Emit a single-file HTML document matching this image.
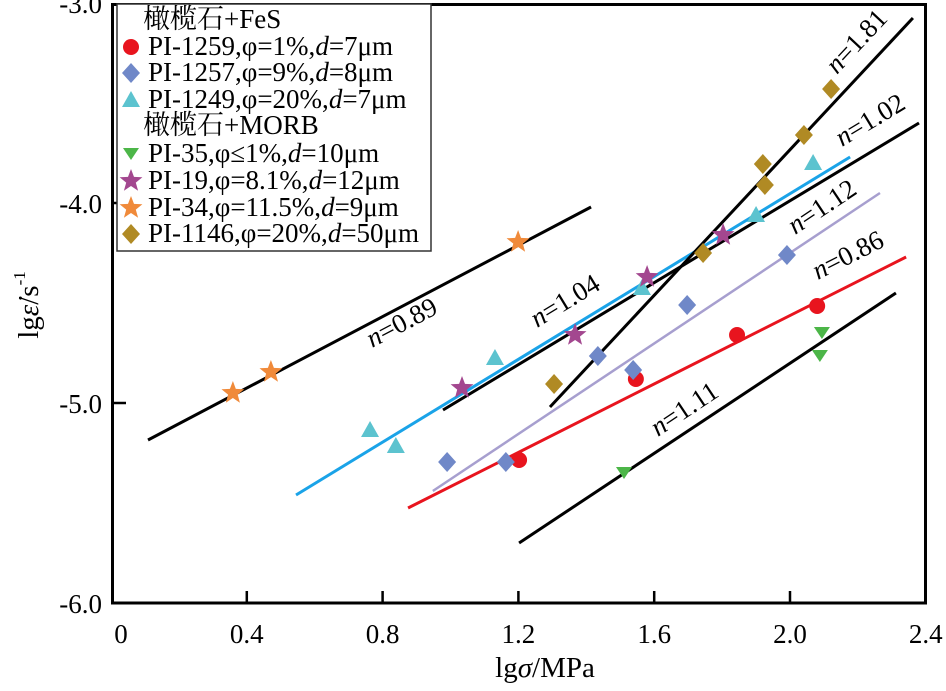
<!DOCTYPE html>
<html><head><meta charset="utf-8">
<style>
html,body{margin:0;padding:0;background:#fff;}
svg{display:block;}
text{font-family:"Liberation Serif","Noto Serif CJK SC","Noto Sans CJK SC",serif;fill:#000;}
</style></head>
<body>
<svg id="chart" width="946" height="691" viewBox="0 0 946 691" xmlns="http://www.w3.org/2000/svg">
  <g id="axes"></g>
  <g id="lines"></g>
  <g id="points"></g>
  <g id="legend"></g>
</svg>
<script>
// ---- data ----
const xTicks = [0, 0.4, 0.8, 1.2, 1.6, 2.0, 2.4];
const xTickLabels = ["0", "0.4", "0.8", "1.2", "1.6", "2.0", "2.4"];
const yTicks = [-3, -4, -5, -6];
const yTickLabels = ["-3.0", "-4.0", "-5.0", "-6.0"];

const fesRedX = [1.202, 1.546, 1.844, 2.08];
const fesRedY = [-5.285, -4.88, -4.66, -4.515];
const fesBlueX = [0.99, 1.163, 1.434, 1.538, 1.697, 1.991];
const fesBlueY = [-5.295, -5.295, -4.765, -4.835, -4.51, -4.26];
const fesCyanX = [0.763, 0.839, 1.131, 1.564, 1.9, 2.068];
const fesCyanY = [-5.135, -5.215, -4.775, -4.425, -4.06, -3.8];
const morbGreenX = [1.511, 2.088, 2.094];
const morbGreenY = [-5.35, -4.765, -4.65];
const morbPurpleX = [1.034, 1.367, 1.579, 1.803];
const morbPurpleY = [-4.925, -4.66, -4.37, -4.16];
const morbOrangeX = [0.359, 0.471, 1.199];
const morbOrangeY = [-4.95, -4.845, -4.195];
const morbGoldX = [1.305, 1.744, 1.926, 1.92, 2.041, 2.121];
const morbGoldY = [-4.905, -4.25, -3.91, -3.805, -3.66, -3.43];

const fitNames = ["n=0.89", "n=1.04", "n=1.02", "n=1.81", "n=1.12", "n=0.86", "n=1.11"];
const fitX0 = [0.109, 0.545, 0.978, 1.293, 0.948, 0.875, 1.202];
const fitY0 = [-5.185, -5.46, -5.035, -5.02, -5.44, -5.525, -5.7];
const fitX1 = [1.414, 2.177, 2.38, 2.362, 2.265, 2.342, 2.312];
const fitY1 = [-4.02, -3.77, -3.6, -3.075, -3.95, -4.27, -4.45];
const fitColors = ["#000", "#1aa3e8", "#000", "#000", "#a79fcf", "#e8141e", "#000"];
const fitWidths = [3, 3, 3, 3, 2.5, 3, 3];
const fitLabelVal = ["0.89", "1.04", "1.02", "1.81", "1.12", "0.86", "1.11"];
const fitLabelX = [0.769, 1.255, 2.153, 2.138, 2.015, 2.082, 1.611];
const fitLabelY = [-4.725, -4.625, -3.72, -3.36, -4.16, -4.385, -5.17];

// ---- scales ----
const X = v => 111 + 339.5 * v;
const Y = v => 603 - (v + 6) * 200;
const NS = "http://www.w3.org/2000/svg";
function mk(tag, parent, attrs) {
  const e = document.createElementNS(NS, tag);
  for (const k in attrs) e.setAttribute(k, attrs[k]);
  parent.appendChild(e);
  return e;
}

// ---- axes ----
const axes = document.getElementById('axes');
const frame = mk('rect', axes, {x: 112.5, y: 4.5, width: 813, height: 598.5, fill: 'none', stroke: '#000', 'stroke-width': 3});


xTicks.forEach((t, i) => {
  if (i > 0 && i < xTicks.length - 1) {
    const tk = mk('line', axes, {x1: X(t), x2: X(t), y1: 603, y2: 591, stroke: '#000', 'stroke-width': 2.5});
    
    
  }
  const lb = mk('text', axes, {x: X(t) + (i === 0 ? 10 : 0), y: 643, 'font-size': 27, 'text-anchor': 'middle'});
  lb.textContent = xTickLabels[i];
  
  
});
yTicks.forEach((t, i) => {
  if (t === -4 || t === -5) {
    const tk = mk('line', axes, {x1: 112, x2: 126, y1: Y(t), y2: Y(t), stroke: '#000', 'stroke-width': 2.5});
    
    
  }
  const lb = mk('text', axes, {x: 102, y: Y(t) + 10, 'font-size': 27, 'text-anchor': 'end'});
  lb.textContent = yTickLabels[i];
  
  
});
const xt = mk('text', axes, {x: 545, y: 677, 'font-size': 29, 'text-anchor': 'middle'});
xt.innerHTML = 'lg<tspan font-style="italic">σ</tspan>/MPa';


const yt = mk('text', axes, {x: 0, y: 0, 'font-size': 29, 'text-anchor': 'middle', transform: 'translate(38,305) rotate(-90)'});
yt.innerHTML = 'lg<tspan font-style="italic">ε̇</tspan>/s<tspan font-size="17" dy="-13">-1</tspan>';



// ---- fit lines ----
const lines = document.getElementById('lines');
fitNames.forEach((nm, i) => {
  const x0 = X(fitX0[i]), y0 = Y(fitY0[i]), x1 = X(fitX1[i]), y1 = Y(fitY1[i]);
  const ln = mk('line', lines, {x1: x0, y1: y0, x2: x1, y2: y1, stroke: fitColors[i], 'stroke-width': fitWidths[i]});
  
  
  const ang = Math.atan2(y1 - y0, x1 - x0) * 180 / Math.PI;
  const lx = X(fitLabelX[i]), ly = Y(fitLabelY[i]);
  const t = mk('text', lines, {x: lx, y: ly, 'font-size': 27, transform: `rotate(${ang} ${lx} ${ly})`});
  t.innerHTML = '<tspan font-style="italic">n</tspan>=' + fitLabelVal[i];
  
  
});

// ---- markers ----
const points = document.getElementById('points');
function starPath(cx, cy, R) {
  let d = '';
  for (let k = 0; k < 10; k++) {
    const r = k % 2 ? R * 0.42 : R;
    const a = -Math.PI / 2 + k * Math.PI / 5;
    d += (k ? 'L' : 'M') + (cx + r * Math.cos(a)).toFixed(1) + ' ' + (cy + r * Math.sin(a)).toFixed(1);
  }
  return d + 'Z';
}
function marker(parent, kind, cx, cy, color) {
  let e;
  if (kind === 'circle') e = mk('circle', parent, {cx, cy, r: 8, fill: color});
  else if (kind === 'diamond') e = mk('path', parent, {d: `M${cx} ${cy-10}L${cx+9} ${cy}L${cx} ${cy+10}L${cx-9} ${cy}Z`, fill: color});
  else if (kind === 'up') e = mk('path', parent, {d: `M${cx} ${cy-9}L${cx+9} ${cy+7}L${cx-9} ${cy+7}Z`, fill: color});
  else if (kind === 'down') e = mk('path', parent, {d: `M${cx-8} ${cy-6}L${cx+8} ${cy-6}L${cx} ${cy+6}Z`, fill: color});
  else e = mk('path', parent, {d: starPath(cx, cy, 12), fill: color});
  return e;
}
const seriesDefs = [
  [fesRedX, fesRedY, 'circle', '#e8141e', 'pi-1259-point'],
  [fesBlueX, fesBlueY, 'diamond', '#7088c8', 'pi-1257-point'],
  [fesCyanX, fesCyanY, 'up', '#5cc3cf', 'pi-1249-point'],
  [morbGreenX, morbGreenY, 'down', '#4cb648', 'pi-35-point'],
  [morbPurpleX, morbPurpleY, 'star', '#a3478f', 'pi-19-point'],
  [morbOrangeX, morbOrangeY, 'star', '#f08a3a', 'pi-34-point'],
  [morbGoldX, morbGoldY, 'diamond', '#b08a24', 'pi-1146-point']
];
seriesDefs.forEach(s => {
  s[0].forEach((xv, j) => {
    const m = marker(points, s[2], X(xv), Y(s[1][j]), s[3]);
    
    
  });
});

// ---- legend ----
const legend = document.getElementById('legend');
const lbox = mk('rect', legend, {x: 117, y: 4, width: 314, height: 247, fill: '#fff', stroke: '#333', 'stroke-width': 1.5});


const legendRows = [
  [null, '橄榄石+FeS', 28],
  [0, 'PI-1259,φ=1%,<tspan font-style="italic">d</tspan>=7μm', 55],
  [1, 'PI-1257,φ=9%,<tspan font-style="italic">d</tspan>=8μm', 81],
  [2, 'PI-1249,φ=20%,<tspan font-style="italic">d</tspan>=7μm', 108],
  [null, '橄榄石+MORB', 134],
  [3, 'PI-35,φ≤1%,<tspan font-style="italic">d</tspan>=10μm', 162],
  [4, 'PI-19,φ=8.1%,<tspan font-style="italic">d</tspan>=12μm', 189],
  [5, 'PI-34,φ=11.5%,<tspan font-style="italic">d</tspan>=9μm', 216],
  [6, 'PI-1146,φ=20%,<tspan font-style="italic">d</tspan>=50μm', 242]
];
legendRows.forEach(r => {
  const g = mk('g', legend, {});
  
  
  if (r[0] !== null) {
    const s = seriesDefs[r[0]];
    marker(g, s[2], 131, r[2] - 8, s[3]);
  }
  const t = mk('text', g, {x: r[0] === null ? 143 : 148, y: r[2], 'font-size': 27});
  t.innerHTML = r[1];
});
</script>
</body></html>
